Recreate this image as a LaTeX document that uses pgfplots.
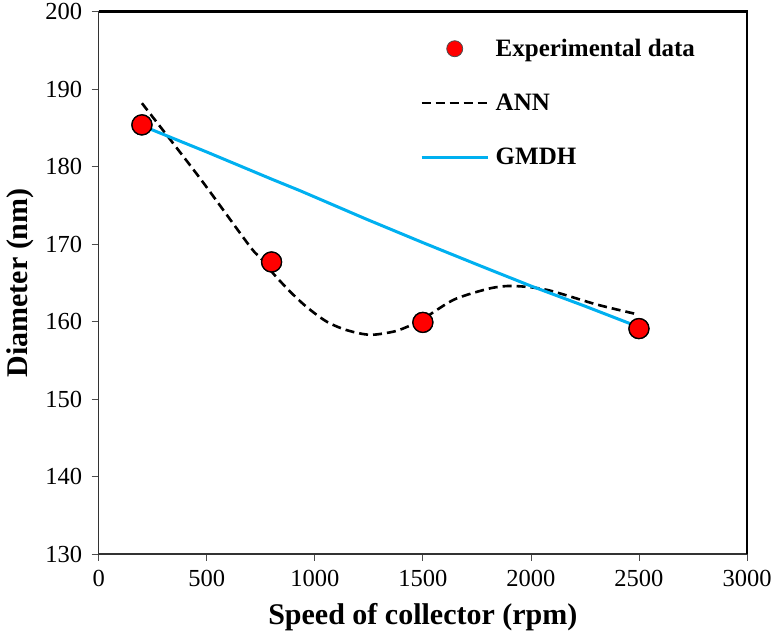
\documentclass[border=0pt]{standalone}
\usepackage{pgfplots}
\pgfplotsset{compat=1.18}
\usepackage{fontspec}
\setmainfont{Liberation Serif}
\definecolor{gmdh}{RGB}{0,176,240}
\definecolor{expred}{RGB}{255,0,0}
\pgfplotsset{
  longline legend/.style={legend image code/.code={\path[draw=none, fill=none] (0pt,0pt) -- (72pt,0pt); \draw[##1] (0pt,0pt) -- (66pt,0pt);}},
  dot legend/.style={legend image code/.code={\path[draw=none, fill=none] (0pt,0pt) -- (72pt,0pt); \draw[mark size=8pt, mark options={fill=expred, draw=black!70, line width=0.8pt}] plot[only marks, mark=*] coordinates {(33pt,0pt)};}},
}
\begin{document}
\begin{tikzpicture}
\useasboundingbox (0pt,0pt) rectangle (774pt,644pt);
\begin{axis}[
  at={(98.7pt,90pt)}, anchor=south west,
  scale only axis, width=648.3pt, height=542.2pt,
  xmin=0, xmax=3000, ymin=130, ymax=200,
  xtick={0,500,...,3000}, ytick={130,140,...,200},
  tick align=outside, xtick pos=bottom, ytick pos=left,
  major tick length=7pt,
  tick style={black!70, line width=0.8pt},
  /pgf/number format/assume math mode=true,
  /pgf/number format/1000 sep={},
  ticklabel style={font=\fontsize{24.5}{28}\selectfont},
  xticklabel style={yshift=-6pt},
  yticklabel style={xshift=-6pt},
  axis line style={black!80, line width=1.6pt},
  xlabel={\textbf{Speed of collector (rpm)}},
  ylabel={\textbf{Diameter (nm)}},
  label style={font=\fontsize{30}{34}\selectfont},
  xlabel style={at={(axis description cs:0.5,-0.116)}, anchor=center},
  ylabel style={at={(axis description cs:-0.1215,0.5)}, anchor=center},
  legend style={at={(rel axis cs:0.491,0.957)}, anchor=north west, draw=none, fill=none,
    font=\fontsize{25}{29}\selectfont\bfseries, row sep=32pt},
  legend cell align=left,
  after end axis/.code={\draw[black, line width=2.6pt] (rel axis cs:0,1) -- (rel axis cs:1,1) -- (rel axis cs:1,0);},
]
\addplot[only marks, mark=*, mark size=10pt, mark options={fill=expred, draw=black, line width=1.3pt}, dot legend]
  coordinates {(200,185.4) (800,167.7) (1500,159.9) (2500,159.1)};
\addlegendentry{Experimental data}
\addplot[black, line width=2.6pt, dash pattern=on 9pt off 5pt, smooth, tension=0.5, longline legend]
  coordinates {(200,188.2) (345,183.0) (485,177.9) (700,169.7) (747,168.3) (808,166.2) (885,163.9) (962,161.9) (1055,160.0) (1148,158.9) (1255,158.3) (1363,158.7) (1425,159.3) (1500,160.3) (1564,161.5) (1657,163.0) (1812,164.3) (1918,164.6) (2074,164.1) (2306,162.2) (2500,160.9)};
\addlegendentry{ANN}
\addplot[gmdh, line width=3pt, longline legend]
  coordinates {(200,185.3) (500,181.9) (800,178.4) (932,176.9) (1241,173.2) (1500,170.2) (1766,167.2) (2000,164.6) (2250,162.0) (2500,159.3)};
\addlegendentry{GMDH}
\addplot[only marks, mark=*, mark size=10pt, mark options={fill=expred, draw=black, line width=1.3pt}, forget plot]
  coordinates {(200,185.4) (800,167.7) (1500,159.9) (2500,159.1)};
\end{axis}
\end{tikzpicture}
\end{document}
